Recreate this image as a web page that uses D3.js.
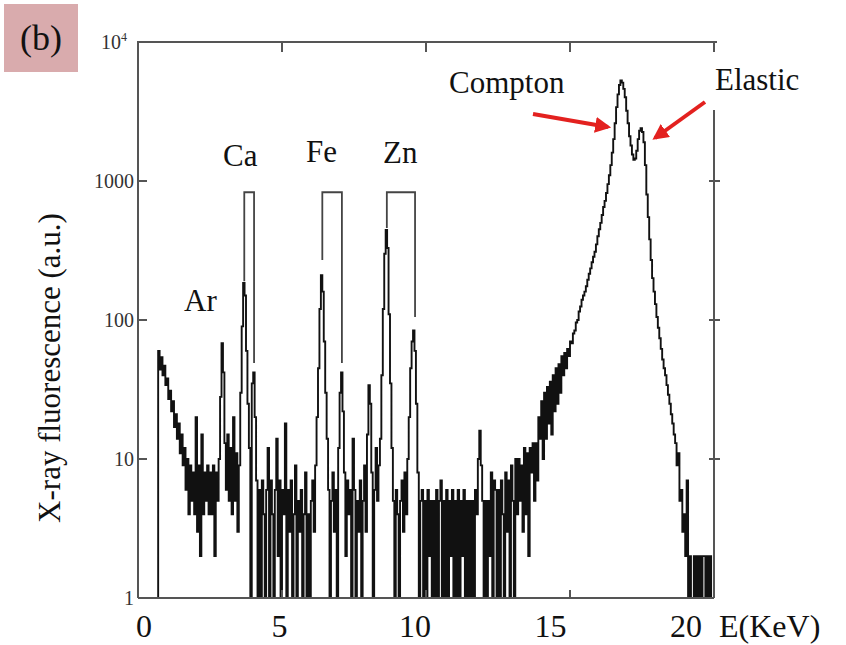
<!DOCTYPE html>
<html><head><meta charset="utf-8">
<script src="https://cdn.jsdelivr.net/npm/d3@7"></script>
<style>
html,body{margin:0;padding:0;background:#fff;}
svg text{font-family:"Liberation Serif","Times New Roman",serif;}
</style></head>
<body>
<svg id="chart" width="846" height="645"></svg>
<script>
// ---------------- data ----------------
const E_START = 0.50;          // keV of first channel
const E_STEP = 0.05;           // keV per channel
const counts = [
 0,0,0,1,60,44,54,40,47,34,38,27,31,22,26,17,21,14,18,11,
 15,9,12,6,10,4,9,5,8,4,20,3,9,2,15,4,8,5,9,4,
 8,4,9,2,8,5,10,28,68,42,13,6,15,5,12,4,20,5,11,3,
 9,30,90,185,150,60,25,12,1,35,42,20,7,1,6,1,7,4,1,6,
 12,1,7,4,1,6,14,2,7,1,6,4,18,1,6,3,7,1,4,9,
 1,5,3,6,1,4,8,1,4,1,5,7,3,9,20,45,120,210,160,70,
 30,14,6,1,5,8,3,6,1,12,30,42,22,8,2,7,4,6,1,14,
 6,1,5,3,7,1,5,9,3,15,34,25,8,1,6,12,5,9,14,40,
 120,300,445,330,110,35,12,5,1,6,4,1,5,7,3,8,4,10,20,45,
 70,84,60,25,8,1,5,6,1,5,1,6,2,5,1,5,1,6,1,5,
 7,1,5,1,6,1,5,2,6,1,5,1,6,1,5,2,6,1,5,1,
 5,1,5,1,6,4,10,16,9,5,1,5,1,5,2,8,1,7,6,1,
 6,1,7,4,1,8,3,7,1,9,5,1,10,4,10,5,9,3,12,4,
 11,2,12,8,13,5,13,7,20,14,26,10,30,14,33,18,36,15,40,22,
 45,25,48,30,55,40,58,45,62,55,70,68,80,84,96,100,115,125,140,150,
 160,175,195,215,235,260,285,310,350,400,450,500,570,650,720,820,950,1100,1300,1600,
 2000,2600,3400,4200,4900,5300,5100,4600,4000,3200,2600,2100,1800,1550,1420,1450,1650,2000,2300,2400,
 2250,1900,1300,800,550,380,270,200,160,130,105,88,74,62,52,45,40,34,29,25,
 21,18,15,13,9,11,5,6,3,4,2,7,1,2,1,1,2,1,2,1,
 2,1,2,2,1,2,1,2,1,1
];
const xTicks = [5, 10, 15, 20];
const xTickLabels = ["0", "5", "10", "15", "20"];
const xLabelValues = [0, 5, 10, 15, 20];
const yTicks = [10, 100, 1000];
const yLabelValues = [1, 10, 100, 1000, 10000];
const yLabels = ["1", "10", "100", "1000", "10"];
// element brackets
const elements = ["Ca", "Fe", "Zn"];
const eAlpha = [3.69, 6.40, 8.64];
const eBeta = [4.03, 7.08, 9.62];
const alphaEnd = [190, 270, 460];
const betaEnd = [49, 49, 105];
const bracketTop = 830;

// ---------------- layout ----------------
const svg = d3.select("#chart");
const L = 138, R = 714, T = 42, B = 598;
const x = d3.scaleLinear().domain([0, 20]).range([L, R]);
const y = d3.scaleLog().domain([1, 10000]).range([B, T]);
const xLab = d3.scaleLinear().domain([0, 20]).range([144, 686]);

// (b) panel tag
svg.append("rect").attr("x", 4).attr("y", 4).attr("width", 74).attr("height", 68).attr("fill", "#d9abad");
svg.append("text").attr("x", 41).attr("y", 50).attr("text-anchor", "middle")
  .attr("font-size", 36).attr("fill", "#111").text("(b)");

// clip
svg.append("defs").append("clipPath").attr("id", "clip")
  .append("rect").attr("x", L).attr("y", T).attr("width", R - L).attr("height", B - T);

// spectrum
const data = counts.map((c, i) => ({ e: E_START + i * E_STEP, c: c }));
const line = d3.line().curve(d3.curveStepAfter)
  .x(d => x(d.e)).y(d => y(Math.max(d.c, 1)));
svg.append("path").datum(data).attr("clip-path", "url(#clip)")
  .attr("d", line).attr("fill", "none").attr("stroke", "#111").attr("stroke-width", 1.9);

// brackets
const bg = svg.append("g").attr("stroke", "#444").attr("stroke-width", 1.8).attr("fill", "none");
elements.forEach((el, i) => {
  const p = d3.path();
  p.moveTo(x(eAlpha[i]), y(alphaEnd[i]));
  p.lineTo(x(eAlpha[i]), y(bracketTop));
  p.lineTo(x(eBeta[i]), y(bracketTop));
  p.lineTo(x(eBeta[i]), y(betaEnd[i]));
  bg.append("path").attr("d", p.toString());
});

// frame
const fr = svg.append("g").attr("stroke", "#555").attr("stroke-width", 2).attr("fill", "none");
fr.append("line").attr("x1", L).attr("x2", L).attr("y1", T - 1).attr("y2", B);
fr.append("line").attr("x1", L - 1).attr("x2", R + 3).attr("y1", T).attr("y2", T);
fr.append("line").attr("x1", L).attr("x2", R).attr("y1", B).attr("y2", B);
fr.append("line").attr("x1", R).attr("x2", R).attr("y1", 110).attr("y2", B);
xTicks.forEach(v => {
  fr.append("line").attr("x1", x(v)).attr("x2", x(v)).attr("y1", T).attr("y2", T + 10);
  fr.append("line").attr("x1", x(v)).attr("x2", x(v)).attr("y1", B).attr("y2", B - 8);
});
yTicks.forEach(v => {
  fr.append("line").attr("x1", L).attr("x2", L + 9).attr("y1", y(v)).attr("y2", y(v));
  fr.append("line").attr("x1", R - 5).attr("x2", R + 6).attr("y1", y(v)).attr("y2", y(v));
});

// y tick labels
yLabelValues.forEach((v, i) => {
  const t = svg.append("text").attr("x", 134).attr("y", y(v) + 7).attr("text-anchor", "end")
    .attr("font-size", 20).attr("fill", "#333");
  if (v === 10000) {
    t.attr("x", 127).text(yLabels[i]);
    t.append("tspan").attr("dy", -8).attr("font-size", 12).text("4");
  } else t.text(yLabels[i]);
});

// x tick labels
xLabelValues.forEach((v, i) => {
  svg.append("text").attr("x", xLab(v)).attr("y", 637).attr("text-anchor", "middle")
    .attr("font-size", 32).attr("fill", "#111").text(xTickLabels[i]);
});
svg.append("text").attr("x", 719).attr("y", 637).attr("font-size", 32).attr("fill", "#111").text("E(KeV)");

// y title
svg.append("text").attr("transform", "translate(60,368) rotate(-90)").attr("text-anchor", "middle")
  .attr("font-size", 31).attr("fill", "#111").text("X-ray fluorescence (a.u.)");

// annotations
const ann = [["Ar", 184, 311], ["Ca", 223, 166], ["Fe", 306, 162], ["Zn", 383, 163], ["Compton", 449, 93], ["Elastic", 715, 90]];
ann.forEach(a => svg.append("text").attr("x", a[1]).attr("y", a[2]).attr("font-size", 31).attr("fill", "#111").text(a[0]));

// red arrows
svg.append("defs").append("marker").attr("id", "ah").attr("viewBox", "0 0 10 10")
  .attr("refX", 8).attr("refY", 5).attr("markerWidth", 4).attr("markerHeight", 4)
  .attr("orient", "auto").attr("markerUnits", "strokeWidth")
  .append("path").attr("d", "M0,0 L10,5 L0,10 Z").attr("fill", "#e3211f");
svg.append("line").attr("x1", 533).attr("y1", 114).attr("x2", 608).attr("y2", 127)
  .attr("stroke", "#e3211f").attr("stroke-width", 4).attr("marker-end", "url(#ah)");
svg.append("line").attr("x1", 705).attr("y1", 102).attr("x2", 655).attr("y2", 138)
  .attr("stroke", "#e3211f").attr("stroke-width", 4).attr("marker-end", "url(#ah)");
</script>
</body></html>
